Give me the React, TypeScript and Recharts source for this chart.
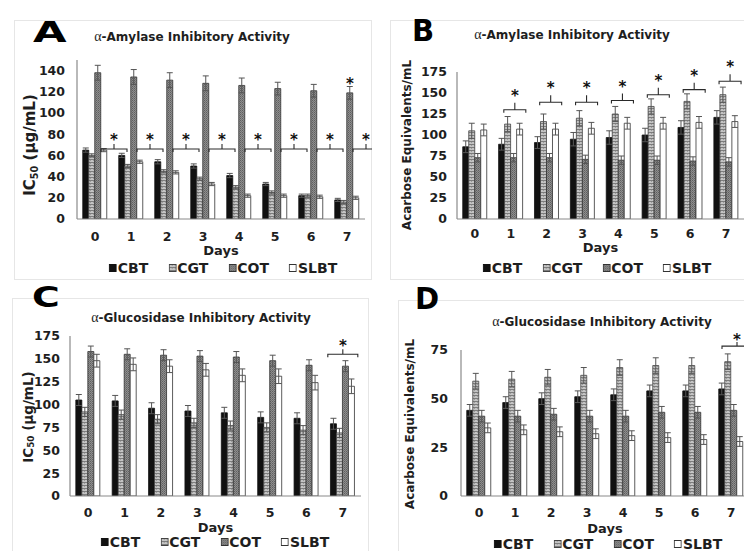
import React from 'react';
import { BarChart, Bar, XAxis, YAxis, ErrorBar, ReferenceDot } from 'recharts';

// ---------- data ----------
const days = ['0', '1', '2', '3', '4', '5', '6', '7'];
const seriesNames = ['CBT', 'CGT', 'COT', 'SLBT'];

// Panel A: alpha-amylase IC50 (ug/mL)
const aCBT = [65, 60, 54, 50, 41, 33, 22, 18];
const aCGT = [60, 50, 45, 38, 30, 25, 22, 16];
const aCOT = [138, 134, 131, 128, 126, 123, 121, 119];
const aSLBT = [65, 54, 44, 33, 22, 22, 21, 20];
const aCBTErr = [2, 2, 2, 2, 2, 1.5, 1.5, 1.5];
const aCGTErr = [1.5, 1.5, 1.5, 1.5, 1.5, 1.5, 1.5, 1.5];
const aCOTErr = [7, 7, 7, 7, 7, 6, 6, 6];
const aSLBTErr = [1.5, 1.5, 1.5, 1.5, 1.5, 1.5, 1.5, 1.5];
const aBracketDays = ['0', '1', '2', '3', '4', '5', '6', '7'];
const aBracketY = [66, 66, 66, 66, 66, 66, 66, 66];
const aStarDays = ['7'];
const aStarY = [131];

// Panel B: alpha-amylase acarbose equivalents/mL
const bCBT = [86, 89, 91, 95, 97, 100, 109, 121];
const bCGT = [105, 113, 116, 120, 125, 134, 140, 148];
const bCOT = [73, 73, 73, 71, 70, 70, 69, 68];
const bSLBT = [106, 107, 107, 108, 114, 114, 115, 116];
const bCBTErr = [7, 7, 7, 8, 8, 8, 8, 8];
const bCGTErr = [9, 9, 9, 9, 9, 9, 9, 9];
const bCOTErr = [5, 5, 5, 5, 5, 5, 5, 5];
const bSLBTErr = [7, 7, 7, 7, 7, 7, 7, 7];
const bBracketDays = ['1', '2', '3', '4', '5', '6', '7'];
const bBracketY = [130, 139, 139, 141, 148, 154, 164];

// Panel C: alpha-glucosidase IC50 (ug/mL)
const cCBT = [105, 104, 96, 93, 91, 86, 85, 79];
const cCGT = [92, 89, 84, 80, 77, 75, 72, 69];
const cCOT = [158, 155, 154, 153, 152, 148, 143, 142];
const cSLBT = [148, 144, 142, 138, 132, 131, 124, 120];
const cCBTErr = [6, 6, 6, 6, 6, 6, 6, 6];
const cCGTErr = [5, 5, 5, 5, 5, 5, 5, 5];
const cCOTErr = [6, 6, 6, 6, 6, 6, 6, 6];
const cSLBTErr = [7, 7, 7, 7, 7, 8, 8, 8];
const cBracketDays = ['7'];
const cBracketY = [155];

// Panel D: alpha-glucosidase acarbose equivalents/mL
const dCBT = [44, 48, 50, 51, 52, 54, 54, 55];
const dCGT = [59, 60, 61, 62, 66, 67, 67, 69];
const dCOT = [41, 41, 42, 41, 41, 43, 43, 44];
const dSLBT = [35, 34, 33, 32, 31, 30, 29, 28];
const dCBTErr = [3, 3, 3, 3, 3, 3, 3, 3];
const dCGTErr = [4, 4, 4, 4, 4, 4, 4, 4];
const dCOTErr = [3, 3, 3, 3, 3, 3, 3, 3];
const dSLBTErr = [2.5, 2.5, 2.5, 2.5, 2.5, 2.5, 2.5, 2.5];
const dBracketDays = ['7'];
const dBracketY = [77];

const aTicks = [0, 20, 40, 60, 80, 100, 120, 140];
const bTicks = [0, 25, 50, 75, 100, 125, 150, 175];
const cTicks = [0, 25, 50, 75, 100, 125, 150, 175];
const dTicks = [0, 25, 50, 75];

function build(cbt: number[], cgt: number[], cot: number[], slbt: number[], e1: number[], e2: number[], e3: number[], e4: number[]) {
  return days.map((d, i) => ({
    day: d,
    cbt: cbt[i], cgt: cgt[i], cot: cot[i], slbt: slbt[i],
    cbtE: e1[i], cgtE: e2[i], cotE: e3[i], slbtE: e4[i],
  }));
}

const dataA = build(aCBT, aCGT, aCOT, aSLBT, aCBTErr, aCGTErr, aCOTErr, aSLBTErr);
const dataB = build(bCBT, bCGT, bCOT, bSLBT, bCBTErr, bCGTErr, bCOTErr, bSLBTErr);
const dataC = build(cCBT, cCGT, cCOT, cSLBT, cCBTErr, cCGTErr, cCOTErr, cSLBTErr);
const dataD = build(dCBT, dCGT, dCOT, dSLBT, dCBTErr, dCGTErr, dCOTErr, dSLBTErr);

// ---------- styles ----------
const FONT = 'DejaVu Sans, Liberation Sans, Arial, sans-serif';
const INK = '#1e1e1e';
const fills = ['#111111', 'url(#pCGT)', 'url(#pCOT)', '#ffffff'];
const strokes = ['#111111', '#444444', '#333333', '#333333'];

const Bracket = ({ cx, cy, dx, w, tick, rise }: any) => {
  if (cx == null || cy == null) return null;
  const xm = cx + dx;
  const x0 = xm - w / 2;
  const x1 = xm + w / 2;
  return (
    <g>
      {w > 0 && (
        <path
          d={`M${x0},${cy + 3} V${cy} H${x1} V${cy + 3} M${xm},${cy} V${cy - tick}`}
          stroke="#2a2a2a"
          strokeWidth={1.1}
          fill="none"
        />
      )}
      <text x={xm} y={cy - rise + 9} textAnchor="middle" fontSize={15} fontWeight="bold" fontFamily={FONT} fill="#111">
        *
      </text>
    </g>
  );
};

const Legend4 = ({ cx, cy, fs }: any) => (
  <div
    style={{
      position: 'absolute', left: cx, top: cy, transform: 'translate(-50%, -50%)',
      display: 'flex', gap: 20, whiteSpace: 'nowrap', fontFamily: FONT, fontWeight: 'bold',
      fontSize: fs, alignItems: 'center', lineHeight: 1, color: INK,
    }}
  >
    {seriesNames.map((n, i) => (
      <span key={n} style={{ display: 'flex', alignItems: 'center' }}>
        <svg width={8} height={8} style={{ display: 'block' }}>
          <rect x={0.5} y={0.5} width={7} height={7} fill={fills[i]} stroke={strokes[i]} strokeWidth={1} />
        </svg>
        <span style={{ marginLeft: 1 }}>{n}</span>
      </span>
    ))}
  </div>
);

const Title = ({ cx, cy, text }: any) => (
  <div
    style={{
      position: 'absolute', left: cx, top: cy, transform: 'translate(-50%, -50%)',
      whiteSpace: 'nowrap', fontFamily: FONT, fontWeight: 'bold', fontSize: 12, color: INK, lineHeight: 1,
    }}
  >
    <span style={{ fontFamily: 'Liberation Serif, serif', fontWeight: 'normal', fontSize: 14 }}>α</span>
    {text}
  </div>
);

const Letter = ({ x, y, ch, fs, sx }: any) => (
  <div
    style={{
      position: 'absolute', left: x, top: y, fontFamily: FONT, fontWeight: 'bold', fontSize: fs,
      lineHeight: 1, color: '#000', transform: `scaleX(${sx})`, transformOrigin: 'left top',
    }}
  >
    {ch}
  </div>
);

const YLabel = ({ x, y, fs, ic }: any) => (
  <text
    transform={`rotate(-90 ${x} ${y})`}
    x={x}
    y={y}
    textAnchor="middle"
    dominantBaseline="central"
    fontFamily={FONT}
    fontWeight="bold"
    fontSize={fs}
    fill={INK}
  >
    {ic ? (
      <>
        IC<tspan fontSize={fs * 0.65} dy={fs * 0.25}>50</tspan>
        <tspan dy={-fs * 0.25}> (μg/mL)</tspan>
      </>
    ) : (
      'Acarbose Equivalents/mL'
    )}
  </text>
);

type PanelProps = {
  left: number; top: number; width: number; height: number;
  margin: { top: number; right: number; left: number; bottom: number };
  data: any[]; domain: [number, number]; ticks: number[];
  xTickMargin: number; yTickMargin: number; daysDy: number;
  ylab: { x: number; y: number; fs: number; ic: boolean };
  brackets: { days: string[]; ys: number[]; dx: number; w: number; tick: number; rise: number };
  stars?: { days: string[]; ys: number[]; dx: number };
};

const Panel = (p: PanelProps) => {
  const tick = { fontFamily: FONT, fontWeight: 'bold', fontSize: 12.5, fill: INK } as any;
  return (
    <div style={{ position: 'absolute', left: p.left, top: p.top }}>
      <BarChart
        width={p.width}
        height={p.height}
        data={p.data}
        margin={p.margin}
        barCategoryGap="16%"
        barGap={0}
      >
        <XAxis
          dataKey="day"
          height={36}
          tickLine={false}
          tickMargin={p.xTickMargin}
          axisLine={{ stroke: '#8a8a8a', strokeWidth: 1.2 }}
          tick={tick}
          interval={0}
          label={{
            content: (lp: any) => {
              const vb = lp.viewBox || {};
              return (
                <text
                  x={vb.x + vb.width / 2}
                  y={vb.y + p.daysDy}
                  textAnchor="middle"
                  dominantBaseline="central"
                  fontFamily={FONT}
                  fontWeight="bold"
                  fontSize={13}
                  fill={INK}
                >
                  Days
                </text>
              );
            },
          }}
        />
        <YAxis
          width={40}
          domain={p.domain}
          ticks={p.ticks}
          allowDataOverflow
          tickLine={false}
          tickMargin={p.yTickMargin}
          axisLine={{ stroke: '#8a8a8a', strokeWidth: 1.2 }}
          tick={tick}
          interval={0}
          label={{ content: () => <YLabel {...p.ylab} /> }}
        />
        {['cbt', 'cgt', 'cot', 'slbt'].map((k, i) => (
          <Bar
            key={k}
            dataKey={k}
            name={seriesNames[i]}
            fill={fills[i]}
            stroke={strokes[i]}
            strokeWidth={0.8}
            isAnimationActive={false}
          >
            <ErrorBar dataKey={k + 'E'} width={3} stroke="#555" strokeWidth={1} direction="y" />
          </Bar>
        ))}
        {p.brackets.days.map((d, i) => (
          <ReferenceDot
            key={'br' + i}
            x={d}
            y={p.brackets.ys[i]}
            r={0}
            ifOverflow="visible"
            shape={(sp: any) => (
              <Bracket cx={sp.cx} cy={sp.cy} dx={p.brackets.dx} w={p.brackets.w} tick={p.brackets.tick} rise={p.brackets.rise} />
            )}
          />
        ))}
        {p.stars &&
          p.stars.days.map((d, i) => (
            <ReferenceDot
              key={'st' + i}
              x={d}
              y={p.stars!.ys[i]}
              r={0}
              ifOverflow="visible"
              shape={(sp: any) => <Bracket cx={sp.cx} cy={sp.cy} dx={p.stars!.dx} w={0} tick={0} rise={0} />}
            />
          ))}
      </BarChart>
    </div>
  );
};

export default function App() {
  return (
    <div
      style={{
        position: 'absolute', left: 0, top: 0, width: 744, height: 551, overflow: 'hidden',
        background: '#ffffff', fontFamily: FONT,
      }}
    >
      <svg width={744} height={551} style={{ position: 'absolute', left: 0, top: 0 }}>
        <defs>
          <pattern id="pCGT" width={3} height={3} patternUnits="userSpaceOnUse">
            <rect width={3} height={3} fill="#c4c4c4" />
            <rect y={0} width={3} height={1} fill="#7d7d7d" />
            <rect x={0} y={1} width={1} height={1} fill="#9a9a9a" />
          </pattern>
          <pattern id="pCOT" width={2} height={2} patternUnits="userSpaceOnUse">
            <rect width={2} height={2} fill="#8e8e8e" />
            <rect width={1} height={1} fill="#5f5f5f" />
            <rect x={1} y={1} width={1} height={1} fill="#727272" />
          </pattern>
        </defs>
        <g fill="none" stroke="#e6e6e6" strokeWidth={1}>
          <rect x={14.5} y={20.5} width={357} height={259} />
          <rect x={390.5} y={20.5} width={360} height={259} />
          <rect x={12.5} y={298.5} width={356} height={260} />
          <rect x={398.5} y={300.5} width={360} height={260} />
        </g>
      </svg>

      <Panel
        left={0} top={0} width={372} height={275}
        margin={{ top: 60, right: 7, left: 37, bottom: 20 }}
        data={dataA} domain={[0, 150]} ticks={aTicks}
        xTickMargin={7} yTickMargin={6} daysDy={31}
        ylab={{ x: 30, y: 145, fs: 15, ic: true }}
        brackets={{ days: aBracketDays, ys: aBracketY, dx: 19, w: 26, tick: 5, rise: 13 }}
        stars={{ days: aStarDays, ys: aStarY, dx: 3 }}
      />
      <Panel
        left={372} top={0} width={372} height={275}
        margin={{ top: 72, right: 0, left: 45, bottom: 20 }}
        data={dataB} domain={[0, 175]} ticks={bTicks}
        xTickMargin={4} yTickMargin={4} daysDy={28}
        ylab={{ x: 35, y: 145, fs: 12, ic: false }}
        brackets={{ days: bBracketDays, ys: bBracketY, dx: 4, w: 22, tick: 7, rise: 18 }}
      />
      <Panel
        left={0} top={275} width={372} height={276}
        margin={{ top: 61, right: 11, left: 30, bottom: 19 }}
        data={dataC} domain={[0, 175]} ticks={cTicks}
        xTickMargin={6} yTickMargin={4} daysDy={31}
        ylab={{ x: 28, y: 142, fs: 13.5, ic: true }}
        brackets={{ days: cBracketDays, ys: cBracketY, dx: 0, w: 30, tick: 5, rise: 12 }}
      />
      <Panel
        left={372} top={275} width={380} height={276}
        margin={{ top: 75, right: 3, left: 49, bottom: 19 }}
        data={dataD} domain={[0, 75]} ticks={dTicks}
        xTickMargin={6} yTickMargin={7} daysDy={32}
        ylab={{ x: 38, y: 149, fs: 12, ic: false }}
        brackets={{ days: dBracketDays, ys: dBracketY, dx: 6, w: 30, tick: 4, rise: 10 }}
      />

      <Letter x={33} y={19} ch="A" fs={28} sx={1.55} />
      <Letter x={412} y={16} ch="B" fs={30} sx={0.97} />
      <Letter x={32} y={284} ch="C" fs={28} sx={1.35} />
      <Letter x={415} y={284} ch="D" fs={30} sx={0.97} />

      <Title cx={192} cy={37} text="-Amylase Inhibitory Activity" />
      <Title cx={572} cy={35} text="-Amylase Inhibitory Activity" />
      <Title cx={201} cy={318} text="-Glucosidase Inhibitory Activity" />
      <Title cx={602} cy={322} text="-Glucosidase Inhibitory Activity" />

      <Legend4 cx={223} cy={268} fs={14} />
      <Legend4 cx={597} cy={268} fs={14} />
      <Legend4 cx={215} cy={542} fs={14} />
      <Legend4 cx={608} cy={544} fs={14} />
    </div>
  );
}
